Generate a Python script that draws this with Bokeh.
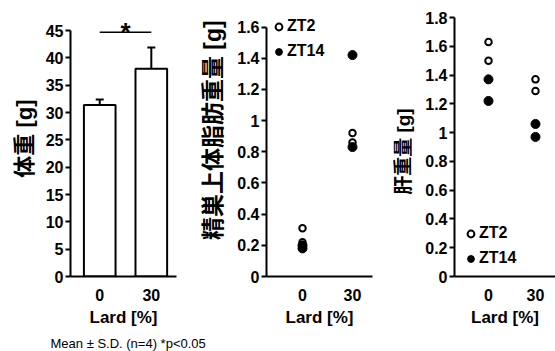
import math
from bokeh.plotting import figure
from bokeh.models import (Range1d, FixedTicker, PrintfTickFormatter, Whisker, TeeHead,
                          ColumnDataSource, Legend, LegendItem, Label)
from bokeh.layouts import row, column
from bokeh.embed import file_html
from bokeh.resources import INLINE

# ---------------- data ----------------
lard = [0, 30]                       # Lard [%]
bw_mean = [31.4, 38.0]               # body weight [g]
bw_sd = [1.0, 3.9]
sig_y = 44.7                         # significance bracket height
sig_text = "*"

lard_pts = [0, 0, 30, 30]
fat_zt2 = [0.31, 0.22, 0.92, 0.86]   # epididymal fat weight [g]
fat_zt14 = [0.20, 0.18, 1.42, 0.83]
liver_zt2 = [1.63, 1.50, 1.37, 1.29]  # liver weight [g]
liver_zt14 = [1.37, 1.22, 1.06, 0.97]

bw_ticks = [0, 5, 10, 15, 20, 25, 30, 35, 40, 45]
fat_ticks = [0, 0.2, 0.4, 0.6, 0.8, 1.0, 1.2, 1.4, 1.6]
liver_ticks = [0, 0.2, 0.4, 0.6, 0.8, 1.0, 1.2, 1.4, 1.6, 1.8]

xlabel = "Lard [%]"
ylabels = ["体重 [g]", "精巣上体脂肪重量 [g]", "肝重量 [g]"]
series = ["ZT2", "ZT14"]
footnote = "Mean \u00b1 S.D. (n=4)  *p<0.05"

# ---------------- style ----------------
LAT = "Liberation Sans"
CJK = "'Liberation Sans', 'Noto Sans CJK JP'"
FIG_H = 340


def blank_fig(width, height, **kw):
    f = figure(width=width, height=height, x_range=Range1d(0, width),
               y_range=Range1d(0, height), output_backend="svg", toolbar_location=None,
               title_location=None, min_border=0, **kw)
    f.axis.visible = False
    f.grid.visible = False
    f.outline_line_color = None
    f.background_fill_alpha = 0
    f.border_fill_alpha = 0
    return f


def ylabel_fig(width, text, cx, cy, size):
    f = blank_fig(width, FIG_H)
    f.add_layout(Label(x=cx, y=FIG_H - cy, text=text, angle=math.pi / 2,
                       text_align="center", text_baseline="middle", text_font=CJK,
                       text_font_size=size, text_font_style="bold", text_color="black"))
    return f


def make_fig(width, left, right, top, bottom, xr, yr, yticks):
    p = figure(width=width, height=FIG_H, x_range=Range1d(*xr), y_range=Range1d(*yr),
               output_backend="svg", toolbar_location=None, title_location=None,
               min_border_left=left, min_border_right=right,
               min_border_top=top, min_border_bottom=bottom)
    p.outline_line_color = None
    p.grid.visible = False
    p.background_fill_color = "white"
    p.border_fill_color = "white"
    for ax in (p.xaxis[0], p.yaxis[0]):
        ax.axis_line_width = 2
        ax.axis_line_color = "black"
        ax.major_tick_line_width = 2
        ax.major_tick_line_color = "black"
        ax.minor_tick_line_color = None
        ax.major_tick_in = 0
        ax.major_label_text_font = LAT
        ax.major_label_text_font_style = "bold"
        ax.major_label_text_font_size = "16px"
        ax.major_label_text_color = "black"
        ax.axis_label_text_color = "black"
        ax.axis_label_text_font_style = "bold"
    xa = p.xaxis[0]
    xa.ticker = FixedTicker(ticks=lard)
    xa.major_tick_out = 0
    xa.major_label_standoff = 12
    xa.axis_label = xlabel
    xa.axis_label_text_font = LAT
    xa.axis_label_text_font_size = "17px"
    xa.axis_label_standoff = 4
    ya = p.yaxis[0]
    ya.ticker = FixedTicker(ticks=yticks)
    ya.formatter = PrintfTickFormatter(format="%g")
    ya.major_tick_out = 5
    ya.major_label_standoff = 2
    ya.bounds = (yticks[0], yticks[-1])
    return p


# ---- panel 1: body weight ----
l1 = ylabel_fig(40, ylabels[0], 24, 159, "22px")
p1 = make_fig(145, 30, 9, 8, FIG_H - 279, (-17.0, 44.65), (0, 47.4), bw_ticks)
src = ColumnDataSource(dict(x=lard, top=bw_mean,
                            up=[m + s for m, s in zip(bw_mean, bw_sd)],
                            lo=[m - s for m, s in zip(bw_mean, bw_sd)]))
p1.vbar(x="x", top="top", width=18.4, source=src, fill_color="white",
        line_color="black", line_width=2)
p1.add_layout(Whisker(source=src, base="x", upper="up", lower="lo", line_width=2,
                      upper_head=TeeHead(size=8, line_width=2),
                      lower_head=TeeHead(size=8, line_width=2)))
p1.line(x=lard, y=[sig_y, sig_y], line_color="black", line_width=1.5)
p1.add_layout(Label(x=(lard[0] + lard[1]) / 2, y=sig_y, text=sig_text, text_align="center",
                    text_baseline="middle", text_font=LAT, text_font_style="bold",
                    text_font_size="26px", text_color="black"))


def scatter_panel(p, y2, y14, loc):
    r2 = p.scatter(lard_pts, y2, marker="circle", size=6.5, fill_color="white",
                   line_color="black", line_width=2)
    r14 = p.scatter(lard_pts, y14, marker="circle", size=9, fill_color="black",
                    line_color="black", line_width=1)
    leg = Legend(items=[LegendItem(label=series[0], renderers=[r2]),
                        LegendItem(label=series[1], renderers=[r14])],
                 location=loc, orientation="vertical",
                 glyph_width=17, glyph_height=17, label_standoff=-4, spacing=7,
                 padding=0, margin=0, border_line_color=None, background_fill_alpha=0,
                 label_text_font=LAT, label_text_font_style="bold",
                 label_text_font_size="16px", label_text_color="black")
    p.add_layout(leg)


# ---- panel 2: epididymal fat ----
l2 = ylabel_fig(45, ylabels[1], 212 - 185, 148, "23px")
p2 = make_fig(150, 36, 8, 10, FIG_H - 279, (-21.6, 42.0), (0, 1.661), fat_ticks)
scatter_panel(p2, fat_zt2, fat_zt14, (4, 216))

# ---- panel 3: liver ----
l3 = ylabel_fig(38, ylabels[2], 403 - 380, 176, "19px")
p3 = make_fig(137, 36, 0, 17, FIG_H - 276, (-21.7, 42.77), (0, 1.8), liver_ticks)
scatter_panel(p3, liver_zt2, liver_zt14, (8, 9))

# ---- footnote (transparent strip overlapping the empty bottom of the panels) ----
pf = blank_fig(555, 20, margin=(-9, 0, 0, 0))
pf.add_layout(Label(x=50, y=8, text=footnote, text_font=LAT, text_font_size="13px",
                    text_color="black", text_baseline="alphabetic"))

layout = column(row(l1, p1, l2, p2, l3, p3), pf)
open("out.html", "w").write(file_html(layout, INLINE))
